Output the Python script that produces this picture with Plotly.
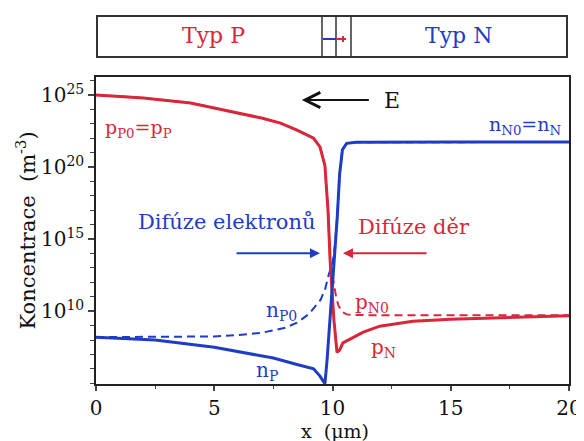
import numpy as np
import plotly.graph_objects as go

# ---- data (log10 of concentration in m^-3) ----
x_p = [0, 2, 4, 5, 6, 7, 7.8, 8.5, 9.2, 9.47, 9.68, 9.81, 9.9, 9.98, 10.06, 10.19, 10.3, 10.44, 10.6, 11.0, 11.3, 12.0, 13.4, 15.0, 17.6, 20]
logp = [25.0, 24.8, 24.45, 24.1, 23.8, 23.4, 23.05, 22.57, 22.0, 21.4, 20.1, 17.0, 13.5, 11.5, 9.4, 7.15, 7.3, 7.8, 7.95, 8.3, 8.55, 8.96, 9.3, 9.45, 9.58, 9.68]

x_n = [0, 2.5, 5, 7.5, 8.5, 9.2, 9.47, 9.68, 9.77, 9.9, 10.0, 10.1, 10.2, 10.3, 10.42, 10.6, 11.0, 15, 20]
logn = [8.2, 8.0, 7.5, 6.75, 6.3, 6.0, 5.5, 4.97, 6.6, 9.5, 12.0, 14.5, 16.5, 19.5, 21.2, 21.65, 21.72, 21.74, 21.74]

x_p0 = [0, 2, 4, 5, 6, 7, 7.8, 8.5, 9.2, 9.47, 9.68, 9.81, 9.9, 9.97, 10.05, 10.15, 10.25, 10.4, 10.6, 11, 15, 20]
logp0 = [25.0, 24.8, 24.45, 24.1, 23.8, 23.4, 23.05, 22.57, 22.0, 21.4, 20.1, 17.0, 13.5, 12.6, 12.0, 11.0, 10.4, 9.95, 9.78, 9.73, 9.72, 9.72]

x_n0 = [0, 2.5, 5, 6, 7, 8, 8.5, 9, 9.3, 9.5, 9.7, 9.85, 10.0, 10.1, 10.2, 10.3, 10.42, 10.6, 11, 15, 20]
logn0 = [8.2, 8.2, 8.25, 8.35, 8.5, 8.85, 9.2, 9.8, 10.4, 10.8, 11.6, 12.6, 13.3, 14.5, 16.5, 19.5, 21.2, 21.65, 21.72, 21.74, 21.74]

x_ticks = [0, 5, 10, 15, 20]
y_major_exp = [10, 15, 20, 25]
y_minor_exp = list(range(5, 27))

RED = "#d8263a"
BLUE = "#1e3cc4"
FONT = "DejaVu Serif"

fig = go.Figure()
fig.add_trace(go.Scatter(x=x_n0, y=np.power(10.0, logn0), mode="lines",
                         line=dict(color=BLUE, width=2, dash="8px,5px"), hoverinfo="skip"))
fig.add_trace(go.Scatter(x=x_p0, y=np.power(10.0, logp0), mode="lines",
                         line=dict(color=RED, width=2, dash="8px,5px"), hoverinfo="skip"))
fig.add_trace(go.Scatter(x=x_p, y=np.power(10.0, logp), mode="lines",
                         line=dict(color=RED, width=3), hoverinfo="skip"))
fig.add_trace(go.Scatter(x=x_n, y=np.power(10.0, logn), mode="lines",
                         line=dict(color=BLUE, width=3), hoverinfo="skip"))

# page has an 8px body margin: shift the figure content up/left by that amount
OFF = 8
W, H = 584, 441
L, T = 96 - OFF, 77 - OFF
pw, ph = 473, 307
R, B = W - L - pw, H - T - ph

def px(xp):  # target page pixel -> paper x
    return (xp - OFF - L) / pw

def py(yp):  # target page pixel -> paper y
    return (T + ph - (yp - OFF)) / ph

shapes = [
    dict(type="rect", xref="paper", yref="paper", x0=px(97), x1=px(567), y0=py(57), y1=py(16),
         line=dict(color="#333333", width=2)),
    dict(type="line", xref="paper", yref="paper", x0=px(322), x1=px(322), y0=py(57), y1=py(16),
         line=dict(color="#333333", width=1.5)),
    dict(type="line", xref="paper", yref="paper", x0=px(336), x1=px(336), y0=py(57), y1=py(16),
         line=dict(color="#333333", width=1.5)),
    dict(type="line", xref="paper", yref="paper", x0=px(351), x1=px(351), y0=py(57), y1=py(16),
         line=dict(color="#333333", width=1.5)),
    dict(type="line", xref="paper", yref="paper", x0=px(323), x1=px(336), y0=py(39), y1=py(39),
         line=dict(color=BLUE, width=2)),
    dict(type="line", xref="paper", yref="paper", x0=px(337), x1=px(346), y0=py(39), y1=py(39),
         line=dict(color=RED, width=2)),
    dict(type="line", xref="paper", yref="paper", x0=px(343), x1=px(343), y0=py(36), y1=py(42),
         line=dict(color=RED, width=2)),
]

ann = []
def t(text, x, y, color, size=22, xanchor="center", xref="x", yref="y"):
    ann.append(dict(text=text, x=x, y=y, xref=xref, yref=yref, showarrow=False,
                    xanchor=xanchor, yanchor="middle",
                    font=dict(family=FONT, size=size, color=color)))

t("Typ P", px(213), py(36), RED, 22, xref="paper", yref="paper")
t("Typ N", px(458), py(36), BLUE, 22, xref="paper", yref="paper")
t("E", 12.5, 24.65, "#111111", 22)
t("p<sub>P0</sub>=p<sub>P</sub>", 0.3, 22.7, RED, 19, xanchor="left")
t("n<sub>N0</sub>=n<sub>N</sub>", 16.55, 22.9, BLUE, 19, xanchor="left")
t("Difúze elektronů", 5.55, 16.18, BLUE, 21)
t("Difúze děr", 13.45, 15.83, RED, 21)
t("n<sub>P0</sub>", 7.1, 10.0, BLUE, 20, xanchor="left")
t("n<sub>P</sub>", 6.7, 5.85, BLUE, 20, xanchor="left")
t("p<sub>N0</sub>", 10.85, 10.55, RED, 20, xanchor="left")
t("p<sub>N</sub>", 11.55, 7.45, RED, 20, xanchor="left")
t("x  (μm)", px(335), py(431), "#111111", 19, xref="paper", yref="paper")

def arrow(x0, x1, y, color, head, size, width=2):
    ann.append(dict(text="", x=x1, y=y, ax=x0, ay=y, xref="x", yref="y", axref="x", ayref="y",
                    showarrow=True, arrowhead=head, arrowsize=size, arrowwidth=width, arrowcolor=color))

arrow(11.6, 8.7, 24.65, "#111111", 5, 1.5)
arrow(5.88, 9.47, 14.03, BLUE, 2, 1.0)
arrow(14.04, 10.44, 14.03, RED, 2, 1.0)

fig.update_layout(
    width=W, height=H, margin=dict(l=L, r=R, t=T, b=B, autoexpand=False),
    plot_bgcolor="white", paper_bgcolor="white", showlegend=False,
    font=dict(family=FONT, color="#111111"),
    shapes=shapes, annotations=ann,
    xaxis=dict(range=[0, 20], tickvals=x_ticks, ticks="outside", ticklen=5, tickwidth=1.5,
               automargin=False,
               showline=True, linecolor="#222222", linewidth=1.5, mirror=True, showgrid=False,
               zeroline=False, tickfont=dict(family=FONT, size=20, color="#111111"),
               minor=dict(dtick=2.5, tick0=0, ticks="outside", ticklen=3, tickwidth=1.2)),
    yaxis=dict(type="log", range=[4.95, 26.25],
               automargin=False,
               tickvals=[10.0 ** e for e in y_major_exp],
               ticktext=["10<sup>%d</sup>" % e for e in y_major_exp],
               ticks="outside", ticklen=6, tickwidth=1.5,
               showline=True, linecolor="#222222", linewidth=1.5, mirror=True, showgrid=False,
               zeroline=False, tickfont=dict(family=FONT, size=20, color="#111111"),
               minor=dict(tickmode="array", tickvals=[10.0 ** e for e in y_minor_exp],
                          ticks="outside", ticklen=4, tickwidth=1.2),
               title=dict(text="Koncentrace  (m<sup>-3</sup>)", font=dict(family=FONT, size=21, color="#111111"),
                          standoff=0)),
)

fig.write_html("out.html")
